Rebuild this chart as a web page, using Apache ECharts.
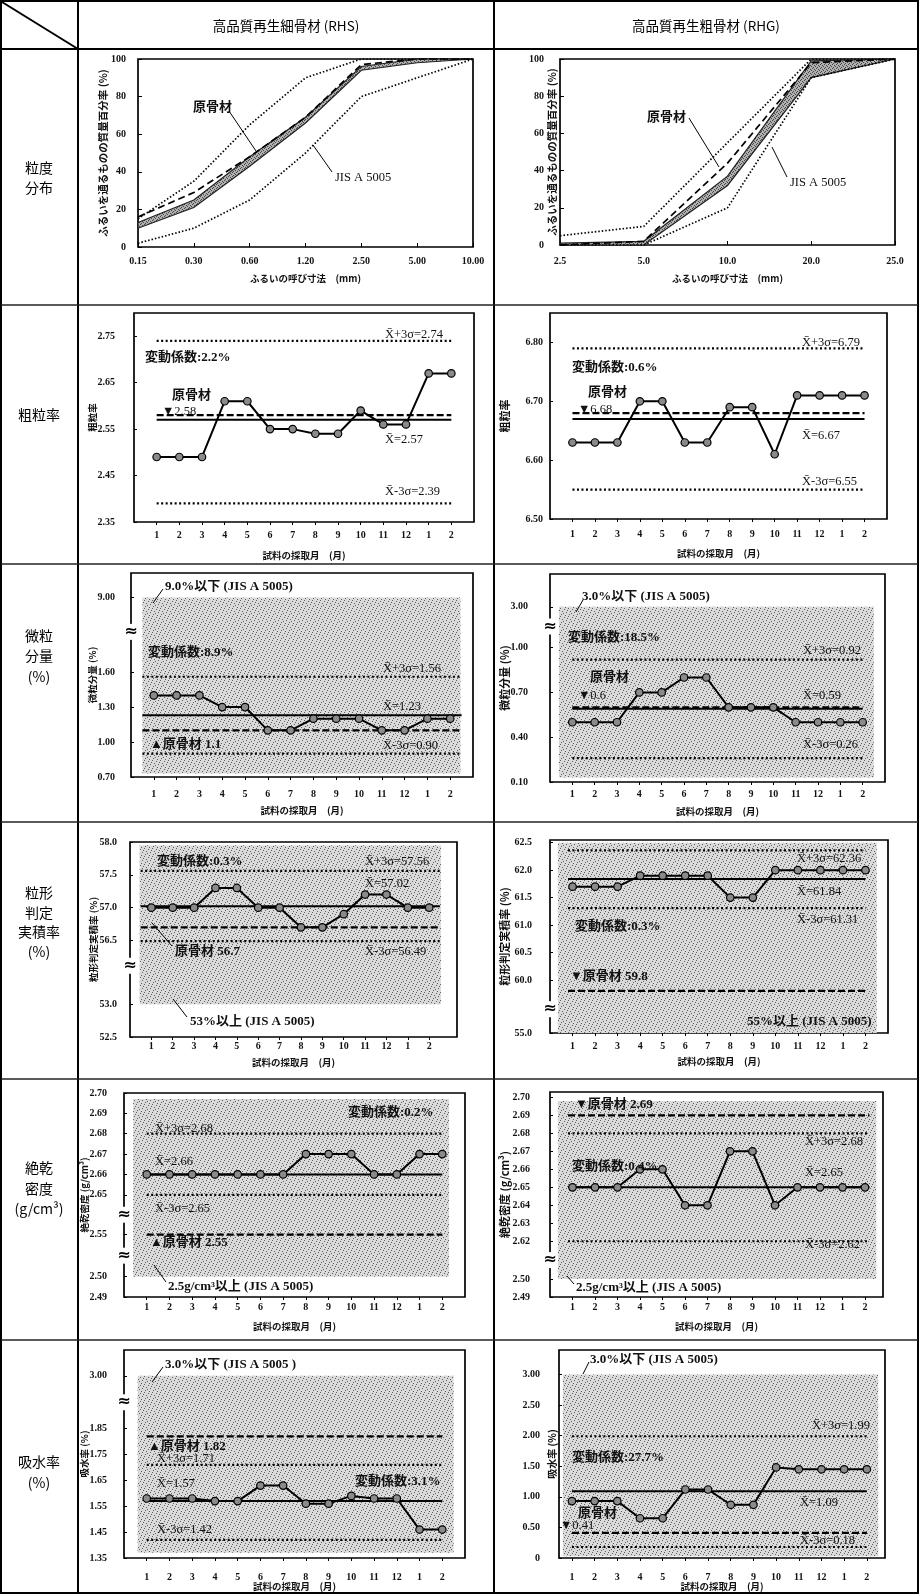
<!DOCTYPE html>
<html lang="ja">
<head>
<meta charset="utf-8">
<title>高品質再生骨材 品質管理図</title>
<script src="https://cdn.jsdelivr.net/npm/echarts@6.0.0/dist/echarts.min.js"></script>
<style>
html,body{margin:0;padding:0;background:#fff;}
#sheet{width:920px;height:1595px;}
</style>
</head>
<body>
<div id="sheet"></div>
<script>
// ---------------- data ----------------
const months = ['1','2','3','4','5','6','7','8','9','10','11','12','1','2'];

// 粒度分布: passing percentage by sieve size
const sieveRHS = ['0.15','0.30','0.60','1.20','2.50','5.00','10.00'];
const jisUpperRHS = [15, 35, 65, 90, 100, 100, 100];
const jisLowerRHS = [2, 10, 25, 50, 80, 90, 100];
const originalRHS = [16, 29, 48, 69, 97, 100, 100];
const rangeLowRHS = [10, 21, 43, 66, 94, 98, 100];
const rangeHighRHS = [13, 25, 48, 69, 96, 100, 100];

const sieveRHG = ['2.5','5.0','10.0','20.0','25.0'];
const jisUpperRHG = [5, 10, 55, 100, 100];
const jisLowerRHG = [0, 0, 20, 90, 100];
const originalRHG = [0, 2, 44, 98, 100];
const rangeLowRHG = [0, 0, 32, 90, 100];
const rangeHighRHG = [1, 2, 37, 99, 100];
const passTicks = [0, 20, 40, 60, 80, 100];

// 粗粒率
const fmRHS = [2.49,2.49,2.49,2.61,2.61,2.55,2.55,2.54,2.54,2.59,2.56,2.56,2.67,2.67];
const fmRHSStats = { ucl: 2.74, mean: 2.57, lcl: 2.39, origin: 2.58, cv: 2.2 };
const fmRHSTicks = [2.35, 2.45, 2.55, 2.65, 2.75];
const fmRHG = [6.63,6.63,6.63,6.70,6.70,6.63,6.63,6.69,6.69,6.61,6.71,6.71,6.71,6.71];
const fmRHGStats = { ucl: 6.79, mean: 6.67, lcl: 6.55, origin: 6.68, cv: 0.6 };
const fmRHGTicks = [6.50, 6.60, 6.70, 6.80];

// 微粒分量 (%)
const finesRHS = [1.40,1.40,1.40,1.30,1.30,1.10,1.10,1.20,1.20,1.20,1.10,1.10,1.20,1.20];
const finesRHSStats = { ucl: 1.56, mean: 1.23, lcl: 0.90, origin: 1.1, cv: 8.9, limit: 9.0 };
const finesRHSTicks = [0.70, 1.00, 1.30, 1.60, 9.00];
const finesRHG = [0.50,0.50,0.50,0.70,0.70,0.80,0.80,0.60,0.60,0.60,0.50,0.50,0.50,0.50];
const finesRHGStats = { ucl: 0.92, mean: 0.59, lcl: 0.26, origin: 0.6, cv: 18.5, limit: 3.0 };
const finesRHGTicks = [0.10, 0.40, 0.70, 1.00, 3.00];

// 粒形判定実積率 (%)
const shapeRHS = [57.0,57.0,57.0,57.3,57.3,57.0,57.0,56.7,56.7,56.9,57.2,57.2,57.0,57.0];
const shapeRHSStats = { ucl: 57.56, mean: 57.02, lcl: 56.49, origin: 56.7, cv: 0.3, limit: 53 };
const shapeRHSTicks = [52.5, 53.0, 56.5, 57.0, 57.5, 58.0];
const shapeRHG = [61.7,61.7,61.7,61.9,61.9,61.9,61.9,61.5,61.5,62.0,62.0,62.0,62.0,62.0];
const shapeRHGStats = { ucl: 62.36, mean: 61.84, lcl: 61.31, origin: 59.8, cv: 0.3, limit: 55 };
const shapeRHGTicks = [55.0, 60.0, 60.5, 61.0, 61.5, 62.0, 62.5];

// 絶乾密度 (g/cm3)
const densRHS = [2.66,2.66,2.66,2.66,2.66,2.66,2.66,2.67,2.67,2.67,2.66,2.66,2.67,2.67];
const densRHSStats = { ucl: 2.68, mean: 2.66, lcl: 2.65, origin: 2.55, cv: 0.2, limit: 2.5 };
const densRHSTicks = [2.49, 2.50, 2.55, 2.65, 2.66, 2.67, 2.68, 2.69, 2.70];
const densRHG = [2.65,2.65,2.65,2.66,2.66,2.64,2.64,2.67,2.67,2.64,2.65,2.65,2.65,2.65];
const densRHGStats = { ucl: 2.68, mean: 2.65, lcl: 2.62, origin: 2.69, cv: 0.4, limit: 2.5 };
const densRHGTicks = [2.49, 2.50, 2.62, 2.63, 2.64, 2.65, 2.66, 2.67, 2.68, 2.69, 2.70];

// 吸水率 (%)
const absRHS = [1.58,1.58,1.58,1.57,1.57,1.63,1.63,1.56,1.56,1.59,1.58,1.58,1.46,1.46];
const absRHSStats = { ucl: 1.71, mean: 1.57, lcl: 1.42, origin: 1.82, cv: 3.1, limit: 3.0 };
const absRHSTicks = [1.35, 1.45, 1.55, 1.65, 1.75, 1.85, 3.00];
const absRHG = [0.93,0.93,0.93,0.65,0.65,1.12,1.12,0.87,0.87,1.48,1.45,1.45,1.45,1.45];
const absRHGStats = { ucl: 1.99, mean: 1.09, lcl: 0.18, origin: 0.41, cv: 27.7, limit: 3.0 };
const absRHGTicks = [0, 0.50, 1.00, 1.50, 2.00, 2.50, 3.00];

// ---------------- styling helpers ----------------
const SERIF = "'Liberation Serif','Noto Sans CJK JP',serif";
const JP = "'Noto Sans CJK JP','Liberation Serif',sans-serif";
const hasCJK = s => /[\u3000-\u9fff]/.test(s);

function stipple(base, dot, spots, size) {
  const c = document.createElement('canvas');
  c.width = size; c.height = size;
  const g = c.getContext('2d');
  g.fillStyle = base; g.fillRect(0, 0, size, size);
  g.fillStyle = dot;
  spots.forEach(p => g.fillRect(p[0], p[1], 1, 1));
  return { image: c, repeat: 'repeat' };
}
const shadeFill = stipple('#dadada', '#5e5e5e',
  [[0,0],[4,1],[2,3],[6,4],[1,6],[5,7],[3,5],[7,2]], 8);
const bandFill = stipple('#b0b0b0', '#474747',
  [[0,0],[2,1],[1,3],[3,2]], 4);

const xbar = (suffix, v, d) => 'X\u0304' + suffix + '=' + v.toFixed(d);
const cvText = v => '変動係数:' + v.toFixed(1) + '%';

const tickFont = { fontFamily: SERIF, fontSize: 10, fontWeight: 'bold', color: '#111' };
const nameFont = { fontFamily: JP, fontSize: 9.5, fontWeight: 'bold', color: '#111' };

const grids = [], xAxes = [], yAxes = [], series = [], graphics = [];

function note(s, x, y) {
  const cjk = hasCJK(s);
  graphics.push({
    type: 'text', x: x, y: y, z: 60, silent: true,
    style: { text: s, font: (cjk ? 'bold 13px ' : '12.5px ') + SERIF, fill: '#111',
             textAlign: 'left', textVerticalAlign: 'middle' }
  });
}
function seg(x1, y1, x2, y2, w, color) {
  graphics.push({ type: 'line', z: 60, silent: true,
    shape: { x1: x1, y1: y1, x2: x2, y2: y2 },
    style: { stroke: color || '#000', lineWidth: w || 1 } });
}
function gridBox(g) {
  return { left: g[0], top: g[1], width: g[2], height: g[3], show: true,
           backgroundColor: '#fff', borderColor: '#000', borderWidth: 1.7,
           outerBoundsMode: 'none', containLabel: false };
}

// ---------------- grading panels ----------------
function addGrading(P) {
  const i = grids.length;
  grids.push(gridBox(P.grid));
  xAxes.push({
    gridIndex: i, type: 'category', data: P.cats, boundaryGap: false,
    axisLine: { show: false }, splitLine: { show: false },
    axisTick: { show: true, inside: true, length: 4, interval: 0, lineStyle: { color: '#000' } },
    axisLabel: Object.assign({ interval: 0, margin: P.xm }, tickFont),
    name: 'ふるいの呼び寸法　(mm)', nameLocation: 'middle', nameGap: P.xg,
    nameMoveOverlap: false, nameTextStyle: nameFont
  });
  yAxes.push({
    gridIndex: i, type: 'value', min: 0, max: 100, interval: 20,
    axisLine: { show: false }, splitLine: { show: false },
    axisTick: { show: true, inside: true, length: 4, lineStyle: { color: '#000' } },
    axisLabel: Object.assign({ margin: P.ym, customValues: passTicks }, tickFont),
    name: 'ふるいを通るものの質量百分率 (%)', nameLocation: 'middle', nameRotate: 90,
    nameGap: P.yg, nameMoveOverlap: false,
    nameTextStyle: Object.assign({}, nameFont, { fontSize: 10.5 })
  });
  const hi = P.high, lo = P.low;
  series.push({
    type: 'custom', xAxisIndex: i, yAxisIndex: i, z: 2, silent: true, data: [[0, 0]],
    renderItem: (p, api) => {
      const top = hi.map((v, k) => api.coord([k, v]));
      const bot = lo.map((v, k) => api.coord([k, v])).reverse();
      return { type: 'polygon', shape: { points: top.concat(bot) },
               style: { fill: bandFill, stroke: '#222', lineWidth: 1.2 } };
    }
  });
  const ln = (data, type, w, z) => ({
    type: 'line', xAxisIndex: i, yAxisIndex: i, data: data, symbol: 'none', silent: true, z: z,
    lineStyle: { color: '#000', width: w, type: type }
  });
  series.push(ln(P.upper, [1.5, 2], 1.7, 3));
  series.push(ln(P.lower, [1.5, 2], 1.7, 3));
  series.push(ln(P.original, [7, 4], 1.7, 4));
  P.notes.forEach(n => note(n[0], n[1], n[2]));
  P.leaders.forEach(l => seg(l[0], l[1], l[2], l[3], 1));
}

addGrading({
  grid: [138, 59, 335, 188], cats: sieveRHS, upper: jisUpperRHS, lower: jisLowerRHS,
  original: originalRHS, low: rangeLowRHS, high: rangeHighRHS,
  xm: 9, xg: 27, ym: 12, yg: 30,
  notes: [['原骨材', 193, 108], ['JIS A 5005', 335, 178]],
  leaders: [[229, 111, 256, 151], [332, 172, 313, 145]]
});
addGrading({
  grid: [560, 59, 335, 186], cats: sieveRHG, upper: jisUpperRHG, lower: jisLowerRHG,
  original: originalRHG, low: rangeLowRHG, high: rangeHighRHG,
  xm: 11, xg: 29, ym: 16, yg: 2.5,
  notes: [['原骨材', 647, 118], ['JIS A 5005', 790, 183]],
  leaders: [[689, 118, 719, 167], [787, 177, 772, 147]]
});

// ---------------- control-chart panels ----------------
const MONTH_POS = months.map((m, k) => k + 1);

function addControl(P) {
  const i = grids.length;
  P.gi = i;
  grids.push(gridBox(P.grid));
  xAxes.push({
    gridIndex: i, type: 'value', min: P.xRange[0], max: P.xRange[1],
    axisLine: { show: false }, splitLine: { show: false },
    axisTick: { show: true, customValues: MONTH_POS, length: 3, lineStyle: { color: '#000' } },
    axisLabel: Object.assign({ customValues: MONTH_POS, margin: P.xm,
      formatter: v => months[Math.round(v) - 1] }, tickFont),
    name: '試料の採取月　(月)', nameLocation: 'middle', nameGap: P.xg,
    nameMoveOverlap: false, nameTextStyle: nameFont
  });
  const y = {
    gridIndex: i, type: 'value', min: P.yRange[0], max: P.yRange[1],
    axisLine: { show: false }, splitLine: { show: false },
    axisTick: { show: true, inside: true, customValues: P.ticks, length: 3, lineStyle: { color: '#000' } },
    axisLabel: Object.assign({ customValues: P.ticks, margin: P.ym,
      formatter: v => (v === 0 ? '0' : v.toFixed(P.dec)) }, tickFont),
    name: P.yName, nameLocation: 'middle', nameRotate: 90, nameGap: P.yg,
    nameMoveOverlap: false,
    nameTextStyle: { fontFamily: JP, fontSize: P.yFont, fontWeight: 'bold', color: '#111' }
  };
  if (P.breaks.length) {
    y.breaks = P.breaks.map(b => ({ start: b[0], end: b[1], gap: b[2] }));
    y.breakArea = { show: false };
  }
  yAxes.push(y);

  if (P.shade) {
    series.push({
      type: 'custom', xAxisIndex: i, yAxisIndex: i, z: 1, silent: true,
      data: [[P.shade.x[0], P.shade.y[0], P.shade.x[1], P.shade.y[1]]],
      renderItem: (p, api) => {
        const a = api.coord([api.value(0), api.value(1)]);
        const b = api.coord([api.value(2), api.value(3)]);
        return { type: 'rect', shape: { x: a[0], y: b[1], width: b[0] - a[0], height: a[1] - b[1] },
                 style: { fill: shadeFill } };
      }
    });
  }
  const s = P.stats, sp = P.span;
  const hline = (v, type, w, z) => ({
    type: 'line', xAxisIndex: i, yAxisIndex: i, data: [[sp[0], v], [sp[1], v]],
    symbol: 'none', silent: true, z: z, lineStyle: { color: '#000', width: w, type: type, cap: 'butt' }
  });
  series.push(hline(s.ucl, [2, 2.5], 2.2, 3));
  series.push(hline(s.lcl, [2, 2.5], 2.2, 3));
  series.push(hline(s.origin, [7, 3], 2.2, 3));
  series.push(hline(s.mean, 'solid', 2, 4));
  series.push({
    type: 'line', xAxisIndex: i, yAxisIndex: i, z: 5, silent: true,
    data: P.values.map((v, k) => [k + 1, v]),
    symbol: 'circle', symbolSize: 7.5,
    lineStyle: { color: '#000', width: 2 },
    itemStyle: { color: '#8a8a8a', borderColor: '#000', borderWidth: 1.2 }
  });
  P.notes(s).forEach(n => note(n[0], n[1], n[2]));
  (P.leaders || []).forEach(l => seg(l[0], l[1], l[2], l[3], 1));
}

const panels = [
  { values: fmRHS, stats: fmRHSStats, ticks: fmRHSTicks, dec: 2, yName: '粗粒率', yFont: 9.5,
    grid: [134, 313, 340, 209], xRange: [0, 15], yRange: [2.35, 2.80], breaks: [],
    ym: 19, yg: 37, xm: 8, xg: 29, span: [1, 14], shade: null,
    notes: s => [[xbar('+3σ', s.ucl, 2), 385, 335], [cvText(s.cv), 145, 358], ['原骨材', 172, 396],
                 ['▼' + s.origin, 162, 412], [xbar('', s.mean, 2), 385, 440], [xbar('-3σ', s.lcl, 2), 385, 492]] },
  { values: fmRHG, stats: fmRHGStats, ticks: fmRHGTicks, dec: 2, yName: '粗粒率', yFont: 11,
    grid: [550, 313, 337, 206], xRange: [0, 15], yRange: [6.50, 6.85], breaks: [],
    ym: 7, yg: 39.5, xm: 10, xg: 30, span: [1, 14], shade: null,
    notes: s => [[xbar('+3σ', s.ucl, 2), 802, 343], [cvText(s.cv), 572, 368], ['原骨材', 588, 393],
                 ['▼' + s.origin, 578, 410], [xbar('', s.mean, 2), 802, 436], [xbar('-3σ', s.lcl, 2), 802, 482]] },
  { values: finesRHS, stats: finesRHSStats, ticks: finesRHSTicks, dec: 2, yName: '微粒分量 (%)', yFont: 9.5,
    grid: [131, 573, 342, 204], xRange: [0, 15], yRange: [0.70, 9.21], breaks: [[1.80, 8.85, 0.29]],
    ym: 16, yg: 34, xm: 12, xg: 29, span: [0.5, 14.5],
    shade: { x: [0.5, 14.45], y: [0.73, finesRHSStats.limit] },
    notes: s => [[s.limit.toFixed(1) + '%以下 (JIS A 5005)', 165, 587], [cvText(s.cv), 148, 653],
                 [xbar('+3σ', s.ucl, 2), 383, 669], [xbar('', s.mean, 2), 383, 707],
                 ['▲原骨材 ' + s.origin, 150, 745], [xbar('-3σ', s.lcl, 2), 383, 746]],
    leaders: [[153, 603, 163, 589]] },
  { values: finesRHG, stats: finesRHGStats, ticks: finesRHGTicks, dec: 2, yName: '微粒分量 (%)', yFont: 11,
    grid: [550, 574, 335, 208], xRange: [0, 15], yRange: [0.10, 3.22], breaks: [[1.08, 2.93, 0.123]],
    ym: 22, yg: 39.5, xm: 7, xg: 25, span: [1, 14],
    shade: { x: [0.4, 14.5], y: [0.13, finesRHGStats.limit] },
    notes: s => [[s.limit.toFixed(1) + '%以下 (JIS A 5005)', 582, 597], [cvText(s.cv), 568, 638],
                 [xbar('+3σ', s.ucl, 2), 803, 651], ['原骨材', 590, 678], ['▼' + s.origin, 578, 696],
                 [xbar('', s.mean, 2), 803, 696], [xbar('-3σ', s.lcl, 2), 803, 745]],
    leaders: [[576, 612, 583, 600]] },
  { values: shapeRHS, stats: shapeRHSStats, ticks: shapeRHSTicks, dec: 1, yName: '粒形判定実積率 (%)', yFont: 9.5,
    grid: [130, 842, 327, 195], xRange: [0, 15.3], yRange: [52.5, 58.0], breaks: [[53.3, 56.4, 0.57]],
    ym: 13, yg: 32, xm: 4, xg: 21, span: [0.5, 14.5],
    shade: { x: [0.45, 14.55], y: [shapeRHSStats.limit, 57.95] },
    notes: s => [[cvText(s.cv), 157, 862], [xbar('+3σ', s.ucl, 2), 365, 862], [xbar('', s.mean, 2), 365, 884],
                 ['原骨材 ' + s.origin, 175, 952], [xbar('-3σ', s.lcl, 2), 365, 952],
                 [s.limit + '%以上 (JIS A 5005)', 190, 1022]],
    leaders: [[172, 946, 152, 923], [187, 1017, 173, 999]] },
  { values: shapeRHG, stats: shapeRHGStats, ticks: shapeRHGTicks, dec: 1, yName: '粒形判定実積率 (%)', yFont: 11,
    grid: [550, 840, 338, 193], xRange: [0, 15], yRange: [55.0, 62.55], breaks: [[55.2, 59.7, 0.467]],
    ym: 18, yg: 39.5, xm: 8, xg: 24, span: [0.8, 14],
    shade: { x: [0.35, 14.5], y: [shapeRHGStats.limit, 62.5] },
    notes: s => [[xbar('+3σ', s.ucl, 2), 797, 859], [xbar('', s.mean, 2), 797, 892],
                 [xbar('-3σ', s.lcl, 2), 797, 920], [cvText(s.cv), 575, 927],
                 ['▼原骨材 ' + s.origin, 570, 977], [s.limit + '%以上 (JIS A 5005)', 747, 1022]] },
  { values: densRHS, stats: densRHSStats, ticks: densRHSTicks, dec: 2, yName: '絶乾密度 (g/cm³)', yFont: 9.5,
    grid: [124, 1093, 341, 204], xRange: [0, 15], yRange: [2.49, 2.70],
    breaks: [[2.505, 2.545, 0.0106], [2.555, 2.645, 0.0096]],
    ym: 17, yg: 35, xm: 5, xg: 25, span: [1, 14],
    shade: { x: [0.4, 14.3], y: [densRHSStats.limit, 2.697] },
    notes: s => [[cvText(s.cv), 348, 1113], [xbar('+3σ', s.ucl, 2), 155, 1129], [xbar('', s.mean, 2), 155, 1162],
                 [xbar('-3σ', s.lcl, 2), 155, 1209], ['▲原骨材 ' + s.origin, 150, 1243],
                 [s.limit.toFixed(1) + 'g/cm³以上 (JIS A 5005)', 168, 1287]],
    leaders: [[166, 1282, 154, 1265]] },
  { values: densRHG, stats: densRHGStats, ticks: densRHGTicks, dec: 2, yName: '絶乾密度 (g/cm³)', yFont: 11,
    grid: [550, 1092, 333, 205], xRange: [0, 14.8], yRange: [2.49, 2.703], breaks: [[2.505, 2.615, 0.011]],
    ym: 20, yg: 39.5, xm: 5, xg: 25, span: [0.8, 14.2],
    shade: { x: [0.35, 14.5], y: [densRHGStats.limit, 2.698] },
    notes: s => [['▼原骨材 ' + s.origin, 575, 1105], [xbar('+3σ', s.ucl, 2), 805, 1142], [cvText(s.cv), 572, 1167],
                 [xbar('', s.mean, 2), 805, 1173], [xbar('-3σ', s.lcl, 2), 805, 1245],
                 [s.limit.toFixed(1) + 'g/cm³以上 (JIS A 5005)', 576, 1288]],
    leaders: [[574, 1284, 567, 1276]] },
  { values: absRHS, stats: absRHSStats, ticks: absRHSTicks, dec: 2, yName: '吸水率 (%)', yFont: 9.5,
    grid: [124, 1350, 341, 208], xRange: [0, 15], yRange: [1.35, 3.10], breaks: [[1.90, 2.95, 0.104]],
    ym: 17, yg: 35, xm: 14, xg: 24, span: [1, 14],
    shade: { x: [0.6, 14.5], y: [1.37, absRHSStats.limit] },
    notes: s => [[s.limit.toFixed(1) + '%以下 (JIS A 5005 )', 165, 1365], ['▲原骨材 ' + s.origin, 148, 1447],
                 [xbar('+3σ', s.ucl, 2), 157, 1459], [xbar('', s.mean, 2), 157, 1484], [cvText(s.cv), 355, 1482],
                 [xbar('-3σ', s.lcl, 2), 157, 1530]],
    leaders: [[152, 1382, 163, 1367]] },
  { values: absRHG, stats: absRHGStats, ticks: absRHGTicks, dec: 2, yName: '吸水率 (%)', yFont: 10,
    grid: [559, 1350, 326, 208], xRange: [0.43, 14.8], yRange: [0, 3.4], breaks: [],
    ym: 19, yg: 2, xm: 14, xg: 24, span: [1, 14],
    shade: { x: [0.6, 14.5], y: [0.03, absRHGStats.limit] },
    notes: s => [[s.limit.toFixed(1) + '%以下 (JIS A 5005)', 590, 1360], [xbar('+3σ', s.ucl, 2), 812, 1426],
                 [cvText(s.cv), 572, 1458], [xbar('', s.mean, 2), 800, 1503], ['原骨材', 578, 1514],
                 ['▼' + s.origin, 560, 1526], [xbar('-3σ', s.lcl, 2), 800, 1541]],
    leaders: [[583, 1374, 589, 1362]] }
];
panels.forEach(addControl);

// ---------------- table frame and headings ----------------
const ROWS = [49, 305, 564, 822, 1079, 1340];
graphics.push({ type: 'rect', z: 50, silent: true, shape: { x: 1, y: 1, width: 917, height: 1592 },
                style: { fill: 'none', stroke: '#000', lineWidth: 2 } });
seg(78, 1, 78, 1594, 2);
seg(494, 1, 494, 1594, 2);
ROWS.forEach((y, k) => seg(1, y, 918, y, k === 0 ? 2 : 1.5, k === 0 ? '#000' : '#222'));
seg(2, 2, 78, 49, 2);

function centered(s, x, y, size, weight) {
  graphics.push({ type: 'text', x: x, y: y, z: 60, silent: true,
    style: { text: s, font: (weight || 'normal') + ' ' + size + 'px ' + JP, fill: '#000',
             textAlign: 'center', textVerticalAlign: 'middle' } });
}
centered('高品質再生細骨材 (RHS)', 286, 26, 13.5);
centered('高品質再生粗骨材 (RHG)', 706, 26, 13.5);

const rowHeads = [
  [['粒度', 168], ['分布', 188]],
  [['粗粒率', 415]],
  [['微粒', 636], ['分量', 656], ['(%)', 677]],
  [['粒形', 893], ['判定', 913], ['実積率', 932], ['(%)', 952]],
  [['絶乾', 1168], ['密度', 1189], ['(g/cm³)', 1209]],
  [['吸水率', 1462], ['(%)', 1483]]
];
rowHeads.forEach(r => r.forEach(t => centered(t[0], 39, t[1], 14)));

// ---------------- render ----------------
const chart = echarts.init(document.getElementById('sheet'), null, { renderer: 'canvas', width: 920, height: 1595 });
chart.setOption({ animation: false, grid: grids, xAxis: xAxes, yAxis: yAxes, series: series, graphic: graphics });

// axis-break marks drawn where each break sits on its value axis
const breakMarks = [];
panels.forEach(P => {
  P.breaks.forEach((b, k) => {
    const y0 = chart.convertToPixel({ yAxisIndex: P.gi }, b[0]);
    const y1 = chart.convertToPixel({ yAxisIndex: P.gi }, b[1]);
    breakMarks.push({
      type: 'text', id: 'brk' + P.gi + '_' + k, x: P.grid[0], y: (y0 + y1) / 2, z: 70, silent: true,
      style: { text: '≈', font: 'bold 16px DejaVu Sans', fill: '#000', backgroundColor: '#fff',
               padding: [0, 1], textAlign: 'center', textVerticalAlign: 'middle' }
    });
  });
});
chart.setOption({ graphic: graphics.concat(breakMarks) });
</script>
</body>
</html>
